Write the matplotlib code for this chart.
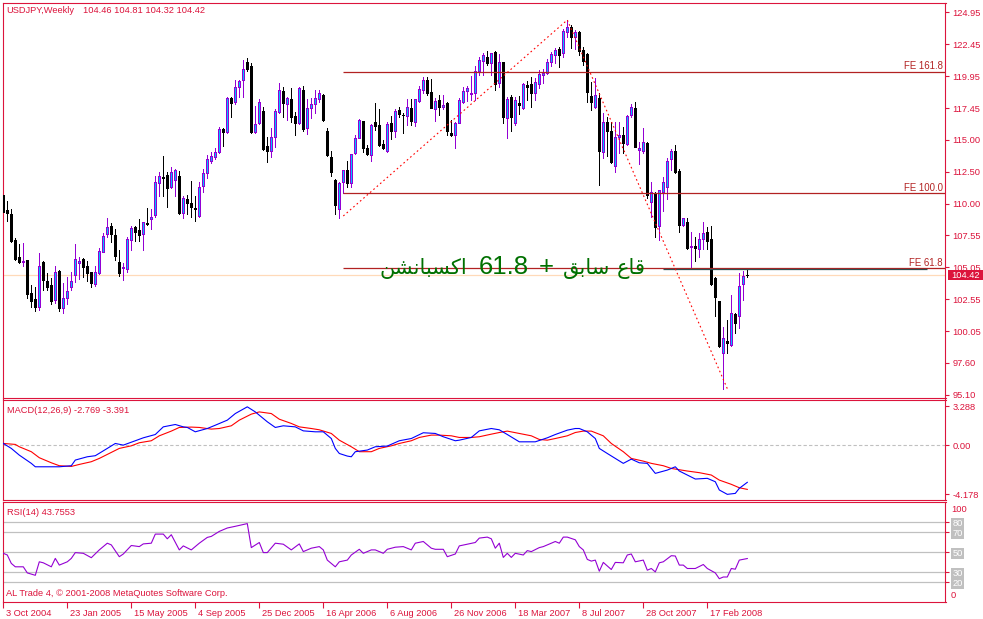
import numpy as np
import matplotlib
matplotlib.use("Agg")
import matplotlib.pyplot as plt
import matplotlib.transforms as mtransforms
from matplotlib.patches import Rectangle

plt.rcParams['font.family'] = ['Liberation Sans', 'DejaVu Sans']

# ---------------- data (weekly USDJPY) ----------------
OPEN = [110.69, 109.52, 109.21, 107.18, 105.85, 105.49, 105.62, 103.04, 102.57, 101.97,
        105.46, 103.98, 103.66, 102.49, 104.76, 101.89, 102.67, 103.53, 104.44, 105.36,
        105.69, 105.15, 104.68, 103.77, 104.63, 106.27, 107.62, 108.27, 107.57, 105.46,
        104.97, 104.91, 107.18, 108.17, 107.96, 107.62, 108.53, 108.82, 109.13, 111.65,
        112.10, 112.25, 111.34, 111.86, 112.17, 109.31, 110.35, 110.09, 109.70, 109.08,
        111.42, 112.38, 113.37, 113.68, 114.07, 115.84, 115.63, 118.29, 117.97, 119.14,
        119.66, 121.10, 120.76, 115.58, 116.28, 117.25, 114.54, 114.15, 115.19, 117.20,
        118.83, 117.77, 118.18, 116.85, 116.33, 118.88, 115.89, 117.51, 117.77, 118.18,
        118.49, 115.68, 113.68, 111.86, 109.57, 111.73, 112.64, 111.60, 113.99, 115.17,
        116.47, 114.33, 113.81, 116.42, 116.16, 114.67, 114.15, 116.34, 115.71, 117.33,
        116.95, 116.88, 117.46, 116.42, 118.05, 118.89, 119.67, 118.76, 117.40, 118.10,
        117.59, 117.90, 115.56, 115.37, 116.34, 117.92, 118.83, 118.55, 118.63, 120.40,
        121.18, 121.49, 121.02, 121.88, 119.40, 121.04, 116.67, 118.31, 116.28, 117.84,
        117.46, 119.28, 119.35, 118.62, 119.35, 120.03, 120.19, 121.10, 121.62, 122.06,
        121.75, 123.44, 123.83, 123.05, 123.44, 122.01, 121.67, 118.42, 117.53, 118.23,
        114.07, 116.41, 115.71, 112.95, 115.20, 115.37, 114.67, 116.93, 117.45, 114.20,
        114.15, 114.77, 110.17, 110.87, 108.27, 110.95, 111.34, 113.47, 114.12, 112.59,
        108.35, 108.61, 106.60, 106.71, 106.45, 107.23, 107.83, 107.26, 104.24, 102.41,
        98.33, 99.32, 98.98, 101.40, 101.27, 103.74, 104.46]
HIGH = [111.47, 110.22, 109.60, 107.31, 106.86, 106.97, 105.62, 103.66, 103.51, 106.16,
        105.50, 104.57, 104.18, 105.15, 104.80, 103.82, 104.26, 104.68, 106.86, 105.88,
        105.80, 105.54, 104.70, 105.15, 106.58, 107.75, 108.92, 108.48, 108.04, 106.40,
        105.36, 107.44, 108.27, 108.30, 108.79, 108.61, 109.65, 109.60, 112.17, 112.51,
        113.76, 112.50, 112.90, 112.69, 112.59, 110.60, 110.69, 111.78, 110.60, 111.73,
        112.69, 113.81, 114.07, 114.33, 116.02, 115.94, 118.36, 118.36, 119.66, 119.66,
        121.23, 121.41, 120.97, 117.64, 118.18, 117.58, 115.19, 115.94, 117.38, 119.45,
        119.09, 118.36, 119.01, 117.14, 119.14, 119.19, 118.16, 118.23, 118.88, 118.88,
        118.55, 115.94, 114.12, 111.95, 111.70, 112.64, 113.34, 113.90, 115.37, 116.60,
        116.50, 114.59, 116.20, 117.90, 117.38, 114.98, 116.42, 116.86, 117.38, 117.53,
        117.12, 118.16, 118.18, 118.20, 119.20, 119.88, 119.88, 119.72, 118.24, 118.50,
        118.50, 117.95, 116.55, 116.40, 118.24, 119.10, 119.20, 119.98, 120.76, 121.49,
        121.75, 121.90, 121.80, 121.90, 121.70, 121.10, 118.31, 118.50, 118.31, 118.42,
        119.46, 119.61, 119.93, 119.80, 120.45, 120.50, 121.28, 121.83, 122.14, 122.27,
        123.62, 124.35, 123.96, 123.57, 123.50, 122.27, 121.75, 119.54, 119.80, 118.62,
        117.06, 116.75, 116.41, 116.41, 116.41, 116.00, 116.90, 117.79, 117.97, 114.85,
        115.89, 114.80, 111.73, 110.95, 111.10, 112.10, 113.55, 114.25, 114.59, 112.70,
        108.92, 108.87, 107.83, 107.44, 107.70, 108.56, 108.22, 108.27, 104.30, 102.45,
        100.41, 100.93, 102.88, 101.45, 104.57, 104.76, 104.81]
LOW = [109.13, 108.69, 107.02, 105.62, 105.41, 105.15, 102.62, 101.97, 101.63, 101.71,
       103.27, 103.27, 102.21, 102.23, 101.63, 101.50, 102.21, 103.27, 103.92, 104.10,
       104.31, 104.00, 103.53, 103.61, 104.52, 106.27, 107.44, 107.05, 105.62, 104.37,
       104.05, 104.70, 106.40, 107.10, 107.13, 106.40, 108.35, 108.04, 109.00, 110.61,
       110.61, 109.78, 111.21, 110.64, 109.18, 108.92, 109.21, 109.00, 108.69, 109.00,
       110.95, 112.04, 113.20, 113.47, 113.99, 114.51, 115.55, 116.80, 117.79, 118.31,
       118.31, 120.35, 115.50, 115.50, 116.20, 114.20, 113.29, 113.68, 114.46, 117.12,
       116.75, 116.54, 116.41, 115.37, 116.23, 115.68, 115.42, 116.67, 117.07, 117.98,
       116.50, 113.73, 112.17, 109.21, 108.92, 110.82, 111.29, 111.29, 113.89, 115.10,
       114.07, 113.81, 113.37, 115.76, 114.51, 114.26, 114.07, 115.04, 115.24, 116.80,
       115.50, 116.16, 116.16, 116.08, 117.98, 118.68, 118.50, 117.46, 116.49, 116.94,
       117.40, 115.37, 115.30, 114.33, 116.30, 117.85, 118.05, 118.10, 118.10, 120.06,
       120.06, 120.80, 120.06, 118.88, 119.14, 116.33, 115.11, 115.71, 116.15, 117.01,
       117.40, 118.10, 117.58, 118.10, 119.02, 119.46, 120.11, 120.76, 120.97, 120.71,
       121.49, 123.05, 122.14, 122.06, 121.62, 120.84, 117.97, 117.32, 117.45, 111.47,
       113.55, 113.73, 113.16, 112.51, 113.94, 113.94, 114.59, 116.75, 114.41, 113.11,
       113.94, 110.43, 108.99, 107.44, 107.18, 109.47, 110.38, 112.64, 112.40, 107.83,
       108.30, 106.45, 104.97, 105.56, 105.82, 106.45, 106.45, 103.66, 101.24, 98.85,
       95.55, 98.38, 98.93, 99.89, 100.28, 102.49, 104.32]
CLOSE = [109.39, 109.26, 107.10, 105.69, 105.46, 105.54, 102.96, 102.42, 101.97, 105.15,
         104.05, 103.51, 102.42, 104.68, 101.89, 102.62, 103.20, 103.98, 105.69, 105.54,
         105.10, 104.63, 103.85, 104.68, 106.32, 107.49, 108.17, 107.65, 105.95, 104.63,
         105.05, 107.25, 108.09, 107.83, 107.57, 108.56, 108.43, 108.95, 111.73, 112.17,
         111.98, 111.26, 112.46, 112.64, 109.31, 110.48, 110.09, 109.73, 109.60, 111.34,
         112.38, 113.47, 113.76, 114.07, 115.81, 115.63, 118.29, 117.84, 119.09, 119.58,
         120.50, 120.52, 115.58, 116.23, 117.92, 114.28, 114.12, 115.24, 117.25, 118.88,
         117.90, 118.23, 116.80, 116.33, 119.01, 115.81, 117.46, 117.77, 118.23, 118.62,
         116.54, 113.81, 112.51, 109.91, 111.65, 112.64, 111.65, 113.86, 115.11, 116.55,
         114.39, 113.89, 116.16, 116.08, 114.59, 114.33, 116.23, 115.71, 117.25, 117.01,
         116.90, 117.53, 116.47, 118.16, 118.94, 119.67, 118.68, 117.51, 118.05, 117.59,
         117.72, 115.71, 115.37, 116.34, 118.10, 118.83, 119.02, 118.68, 120.37, 121.23,
         121.62, 121.02, 121.75, 119.35, 121.04, 116.80, 118.16, 116.75, 118.10, 117.72,
         119.35, 119.15, 118.68, 119.54, 120.13, 120.19, 121.04, 121.70, 122.01, 121.62,
         123.49, 123.83, 123.05, 123.44, 121.96, 121.18, 118.75, 117.97, 118.50, 114.15,
         116.36, 115.71, 113.29, 115.24, 115.37, 114.77, 116.86, 117.53, 114.46, 114.33,
         114.80, 110.69, 110.95, 108.22, 111.08, 111.73, 113.34, 114.12, 112.51, 108.35,
         108.92, 106.53, 106.71, 106.53, 107.23, 107.75, 107.13, 103.74, 102.70, 98.93,
         99.55, 99.11, 101.45, 100.72, 103.59, 104.37, 104.42]

DATE_BARS = [0, 16, 32, 48, 64, 80, 96, 112, 128, 144, 160, 176]
DATE_LABELS = ['3 Oct 2004', '23 Jan 2005', '15 May 2005', '4 Sep 2005', '25 Dec 2005',
               '16 Apr 2006', '6 Aug 2006', '26 Nov 2006', '18 Mar 2007', '8 Jul 2007',
               '28 Oct 2007', '17 Feb 2008']
PRICE_TICKS = [124.95, 122.45, 119.95, 117.45, 115.00, 112.50, 110.00, 107.55, 105.05,
               102.55, 100.05, 97.60, 95.10]

FIB_BARS = [85, 141, 181]
FIB_PRICES = [109.05, 124.35, 95.57]
FE_LEVELS = [120.29, 110.84, 104.97]
FE_NAMES = ['FE 161.8', 'FE 100.0', 'FE 61.8']
FE_START_BAR = 85
HLINE_PRICE = 104.89
HLINE_BARS = [164.9, 230.9]
NOTE_TEXT = 'قاع سابق + 61.8 اكسبانشن'

MACD_X = [0, 2, 4, 7, 8, 12, 14, 17, 18, 21, 23, 26, 28, 30, 33, 35, 38, 40, 43, 45,
          46, 48, 51, 53, 56, 58, 61, 63, 64, 66, 68, 70, 73, 75, 78, 80, 82, 83, 84, 86,
          87, 88, 91, 93, 96, 99, 102, 105, 108, 110, 113, 114, 117, 119, 122, 124, 126, 129, 132, 133,
          136, 138, 141, 143, 144, 146, 148, 149, 151, 153, 155, 157, 159, 161, 163, 166, 168, 169, 171, 173,
          176, 178, 179, 181, 183, 184, 186]
MACD_V = [0.14, -0.28, -0.85, -1.55, -1.84, -1.84, -1.84, -1.75, -1.27, -0.99,
          -0.90, -0.28, 0.14, 0.0, 0.37, 0.62, 0.90, 1.55, 1.75, 1.55,
          1.50, 1.13, 1.41, 1.69, 2.12, 2.68, 3.25, 2.82, 2.54, 1.98,
          1.50, 1.64, 1.55, 1.21, 1.13, 1.13, 0.56, -0.28, -0.71, -0.93,
          -0.99, -0.56, -0.42, -0.14, -0.08, 0.37, 0.56, 1.05, 0.99, 0.71,
          0.37, 0.42, 0.65, 1.21, 1.41, 1.30, 0.90, 0.28, 0.28, 0.28,
          0.62, 0.90, 1.27, 1.41, 1.41, 1.13, 0.56, -0.28, -0.71, -1.13,
          -1.55, -1.19, -1.50, -1.55, -2.40, -2.12, -1.84, -2.20, -2.54, -2.88,
          -2.82, -3.11, -3.81, -4.18, -4.10, -3.67, -3.16]
SIG_X = [0, 3, 4, 7, 9, 12, 14, 17, 19, 22, 24, 27, 29, 32, 34, 37, 39, 42, 44, 47,
         49, 52, 54, 57, 59, 62, 64, 67, 69, 72, 74, 77, 79, 82, 84, 87, 89, 92, 94, 97,
         99, 102, 104, 107, 109, 112, 114, 117, 119, 122, 124, 126, 129, 132, 134, 136, 138, 141, 143, 145,
         147, 150, 152, 155, 157, 160, 162, 165, 167, 171, 174, 177, 179, 182, 184, 186]
SIG_V = [0.14, 0.06, -0.14, -0.56, -1.07, -1.50, -1.75, -1.81, -1.64, -1.41,
         -1.13, -0.62, -0.28, -0.06, 0.20, 0.37, 0.79, 1.19, 1.50, 1.53,
         1.50, 1.36, 1.41, 1.64, 2.12, 2.63, 2.82, 2.68, 2.20, 1.84,
         1.55, 1.41, 1.30, 0.99, 0.42, -0.14, -0.56, -0.56, -0.28, -0.06,
         0.14, 0.37, 0.65, 0.85, 0.85, 0.79, 0.65, 0.65, 0.71, 0.93,
         1.07, 1.19, 0.99, 0.79, 0.48, 0.42, 0.56, 0.79, 1.07, 1.19,
         1.19, 0.79, 0.14, -0.56, -1.13, -1.36, -1.55, -1.75, -1.98, -2.20,
         -2.34, -2.54, -2.97, -3.33, -3.62, -3.76]
MACD_TICKS = [3.288, 0.0, -4.178]
MACD_TICK_LABELS = ['3.288', '0.00', '-4.178']
MACD_LAST, SIG_LAST = -2.769, -3.391

RSI_X = [0, 1, 2, 3, 5, 6, 8, 9, 10, 12, 13, 14, 16, 17, 18, 20, 22, 24, 26, 27,
         29, 30, 32, 34, 35, 37, 38, 40, 41, 42, 44, 45, 47, 49, 51, 52, 54, 56, 58, 61,
         62, 64, 65, 66, 68, 70, 72, 74, 75, 77, 79, 80, 81, 83, 84, 86, 87, 89, 90, 92,
         93, 95, 96, 98, 100, 102, 103, 105, 107, 108, 110, 111, 113, 114, 116, 118, 119, 121, 122, 123,
         124, 125, 126, 127, 128, 130, 131, 132, 134, 135, 137, 138, 139, 140, 141, 143, 144, 145, 146, 147,
         148, 149, 150, 152, 153, 155, 156, 157, 158, 160, 161, 162, 163, 164, 165, 167, 168, 169, 170, 171,
         173, 175, 176, 178, 179, 180, 181, 182, 183, 184, 186]
RSI_V = [49.0, 47.3, 38.9, 35.5, 35.5, 29.4, 27.0, 40.5, 39.5, 35.5,
         43.9, 37.2, 40.5, 43.9, 49.7, 49.0, 44.6, 52.4, 59.1, 57.4,
         45.6, 48.3, 56.8, 55.7, 58.4, 59.1, 68.2, 68.2, 63.5, 67.6,
         52.4, 56.4, 52.4, 59.1, 64.9, 65.9, 70.9, 74.3, 76.0, 78.7,
         54.7, 59.8, 49.7, 49.7, 59.1, 58.1, 52.4, 58.4, 50.7, 54.1,
         55.7, 52.4, 42.2, 35.5, 40.5, 42.2, 47.3, 53.0, 49.0, 52.4,
         52.4, 49.0, 53.0, 55.1, 55.7, 52.4, 59.1, 60.8, 54.1, 53.0,
         53.0, 45.6, 48.3, 56.4, 58.1, 59.8, 64.2, 65.2, 63.5, 54.1,
         59.1, 44.9, 49.0, 44.9, 49.0, 47.3, 51.7, 50.7, 54.7, 55.7,
         59.1, 60.8, 59.1, 65.2, 65.2, 62.5, 55.7, 52.4, 42.9, 41.2,
         42.2, 31.1, 39.9, 32.8, 39.9, 39.5, 47.3, 48.3, 40.5, 42.2,
         32.1, 33.8, 30.4, 39.5, 40.5, 46.6, 46.3, 37.2, 37.2, 33.8,
         33.8, 37.8, 33.8, 29.4, 23.6, 25.3, 25.3, 33.8, 33.1, 42.2, 43.76]
RSI_LEVELS = [80, 70, 50, 30, 20]
RSI_LAST = 43.7553

# ---------------- styling ----------------
W, H = 983, 619
CRIMSON = '#DC143C'
BULL_EDGE = '#9400D3'
BULL_FILL = '#00BFFF'
FE_COLOR = '#B22222'
GREEN = '#007000'
FS = 6.7

# ---------------- arabic shaping (presentation forms, visual order) ----------------
FORMS = {  # isolated, final, initial, medial
    'ا': ('\uFE8D', '\uFE8E', None, None),
    'ب': ('\uFE8F', '\uFE90', '\uFE91', '\uFE92'),
    'س': ('\uFEB1', '\uFEB2', '\uFEB3', '\uFEB4'),
    'ش': ('\uFEB5', '\uFEB6', '\uFEB7', '\uFEB8'),
    'ع': ('\uFEC9', '\uFECA', '\uFECB', '\uFECC'),
    'ق': ('\uFED5', '\uFED6', '\uFED7', '\uFED8'),
    'ك': ('\uFED9', '\uFEDA', '\uFEDB', '\uFEDC'),
    'ن': ('\uFEE5', '\uFEE6', '\uFEE7', '\uFEE8'),
}


def shape_word(w):
    if not all(ch in FORMS for ch in w):
        return w
    out = []
    for k, ch in enumerate(w):
        f = FORMS[ch]
        prev = w[k - 1] if k > 0 else None
        nxt = w[k + 1] if k + 1 < len(w) else None
        jp = prev is not None and FORMS[prev][2] is not None
        jn = nxt is not None and f[2] is not None
        if jp and jn:
            out.append(f[3])
        elif jp:
            out.append(f[1])
        elif jn:
            out.append(f[2])
        else:
            out.append(f[0])
    return ''.join(reversed(out))


# ---------------- figure ----------------
fig = plt.figure(figsize=(W / 100, H / 100), dpi=100)
fig.patch.set_facecolor('white')

MAIN_T, MAIN_B = 2.5, 398.0
YLIM_MAIN = (94.84, 125.715)


def rect(l, t, r, b):
    return [l / W, 1 - b / H, (r - l) / W, (b - t) / H]


def ftext(px, py, s, **kw):
    return fig.text(px / W, 1 - py / H, s, **kw)


def px2bar(px):
    return (px - 3.3) / 4


def price2py(p):
    return MAIN_T + (YLIM_MAIN[1] - p) / (YLIM_MAIN[1] - YLIM_MAIN[0]) * (MAIN_B - MAIN_T)


ax = fig.add_axes(rect(2.5, MAIN_T, 945.5, MAIN_B))
axm = fig.add_axes(rect(2.5, 399.5, 945.5, 500.3))
axr = fig.add_axes(rect(2.5, 502.0, 945.5, 601.7))

XLIM = (px2bar(2.5), px2bar(945.5))
for a in (ax, axm, axr):
    a.set_xlim(*XLIM)
    a.set_facecolor('white')
    for s in a.spines.values():
        s.set_color(CRIMSON)
        s.set_linewidth(0.8)
    a.yaxis.tick_right()
    a.tick_params(axis='y', colors=CRIMSON, length=3, width=0.8, pad=2, labelsize=FS)
    a.tick_params(axis='x', bottom=False, labelbottom=False)

# ---- main price panel ----
o, h, l, c = (np.array(v) for v in (OPEN, HIGH, LOW, CLOSE))
x = np.arange(len(c))
up = c >= o
ax.set_ylim(*YLIM_MAIN)
ax.axhline(c[-1], color='#FFDAB9', lw=0.9, zorder=1)
ax.vlines(x[up], l[up], h[up], colors=BULL_EDGE, lw=0.72, antialiased=False, zorder=2)
ax.vlines(x[~up], l[~up], h[~up], colors='black', lw=0.72, antialiased=False, zorder=2)
bot = np.minimum(o, c)
hgt = np.abs(c - o)
ax.bar(x[up], hgt[up], bottom=bot[up], width=0.5, color=BULL_FILL, edgecolor=BULL_EDGE,
       linewidth=0.68, antialiased=False, zorder=3)
ax.bar(x[~up], hgt[~up], bottom=bot[~up], width=0.5, color='black', edgecolor='black',
       linewidth=0.68, antialiased=False, zorder=3)

ax.set_yticks(PRICE_TICKS)
ax.set_yticklabels(['%.2f' % v for v in PRICE_TICKS])

# objects
ax.hlines(FE_LEVELS, FE_START_BAR, XLIM[1], colors=FE_COLOR, lw=0.9, zorder=4)
ax.hlines(HLINE_PRICE, HLINE_BARS[0], HLINE_BARS[1], colors='#2F4F4F', lw=0.9, zorder=4)
for lv, name in zip(FE_LEVELS, FE_NAMES):
    ax.annotate(name, xy=(1, lv), xycoords=('axes fraction', 'data'), xytext=(-2.5, 2.5),
                textcoords='offset pixels', ha='right', va='baseline', color=FE_COLOR,
                fontsize=6.9, zorder=5)
ax.plot(FIB_BARS, FIB_PRICES, color='red', lw=0.8, ls=(0, (1.5, 2.5)), zorder=5)

# arabic note: runs in visual order (left to right), laid out around the reference centre
words = NOTE_TEXT.split(' ')
AR_FAMILY = ['DejaVu Sans Condensed', 'DejaVu Sans']
runs = [(shape_word(words[4]), 70.0, True),
        (words[3], 47.3, False),
        (words[2], 11.7, False),
        (shape_word(words[1]), 41.0, True),
        (shape_word(words[0]), 28.0, True)]
gaps = [11.7, 9.3, 10.0, 6.0]
note_base = 124.95 - (274.0 - 12.3) / 12.81
fig.canvas.draw()
rend = fig.canvas.get_renderer()
texts, widths = [], []
for s, target, arabic in runs:
    if arabic:
        t = ax.text(0, note_base, s, fontsize=18.5, color=GREEN, ha='left', va='baseline',
                    family=AR_FAMILY, zorder=6)
        w = t.get_window_extent(rend).width
        fs = min(18.5, max(15.0, 18.5 * target / w))
        t.set_fontsize(fs)
    else:
        t = ax.text(0, note_base, s, fontsize=18.5, color=GREEN, ha='left', va='baseline',
                    family=['Liberation Sans', 'DejaVu Sans'], zorder=6)
    widths.append(t.get_window_extent(rend).width)
    texts.append(t)
total = sum(widths) + sum(gaps)
cur = 512.5 - total / 2
for k, t in enumerate(texts):
    t.set_x(px2bar(cur))
    cur += widths[k] + (gaps[k] if k < len(gaps) else 0)

# current price box on the right scale
py = price2py(c[-1])
fig.patches.append(Rectangle((948 / W, 1 - (py + 5) / H), 35 / W, 10 / H,
                             transform=fig.transFigure, facecolor=CRIMSON,
                             edgecolor='none', zorder=5))
ftext(965.5, py, '%.2f' % c[-1], color='white', fontsize=FS, ha='center',
      va='center', zorder=6)

ftext(6.7, 10.7, 'USDJPY,Weekly', color=CRIMSON, fontsize=FS, va='center')
ftext(83.3, 10.7, '%.2f %.2f %.2f %.2f' % (o[-1], h[-1], l[-1], c[-1]),
      color=CRIMSON, fontsize=FS, va='center')

# ---- MACD panel ----
axm.set_ylim(-4.686, 3.873)
axm.axhline(0, color='#C0C0C0', lw=0.8, ls=(0, (3, 2)), zorder=1)
axm.plot(MACD_X, MACD_V, color='blue', lw=0.8, zorder=3)
axm.plot(SIG_X, SIG_V, color='red', lw=0.8, zorder=2)
axm.set_yticks(MACD_TICKS)
axm.set_yticklabels(MACD_TICK_LABELS)
ftext(6.7, 410.7, 'MACD(12,26,9) %.3f %.3f' % (MACD_LAST, SIG_LAST), color=CRIMSON,
      fontsize=FS, va='center')

# ---- RSI panel ----
axr.set_ylim(0.6, 100.3)
for lv in RSI_LEVELS:
    axr.axhline(lv, color='#C0C0C0', lw=0.9, zorder=1)
axr.plot(RSI_X, RSI_V, color=BULL_EDGE, lw=0.8, zorder=3)
axr.set_yticks(RSI_LEVELS)
axr.set_yticklabels([str(v) for v in RSI_LEVELS])
axr.tick_params(axis='y', labelcolor='white')
for lab in axr.get_yticklabels():
    lab.set_bbox(dict(facecolor='#C0C0C0', edgecolor='none', pad=0.8))
ftext(951, 509, '100', color=CRIMSON, fontsize=FS, va='center')
ftext(951, 595.7, '0', color=CRIMSON, fontsize=FS, va='center')
ftext(6.7, 512.7, 'RSI(14) %.4f' % RSI_LAST, color=CRIMSON, fontsize=FS, va='center')
ftext(6.0, 594.0, 'AL Trade 4, © 2001-2008 MetaQuotes Software Corp.', color=CRIMSON,
      fontsize=FS, va='center')

axr.set_xticks(DATE_BARS)
axr.set_xticklabels(DATE_LABELS)
axr.tick_params(axis='x', bottom=True, labelbottom=True, colors=CRIMSON, length=4,
                width=0.8, pad=1, labelsize=FS)
shift = mtransforms.ScaledTranslation(2.5 / 100, 0, fig.dpi_scale_trans)
for lab in axr.get_xticklabels():
    lab.set_ha('left')
    lab.set_transform(lab.get_transform() + shift)

fig.savefig('out.png', dpi=100, facecolor='white')
